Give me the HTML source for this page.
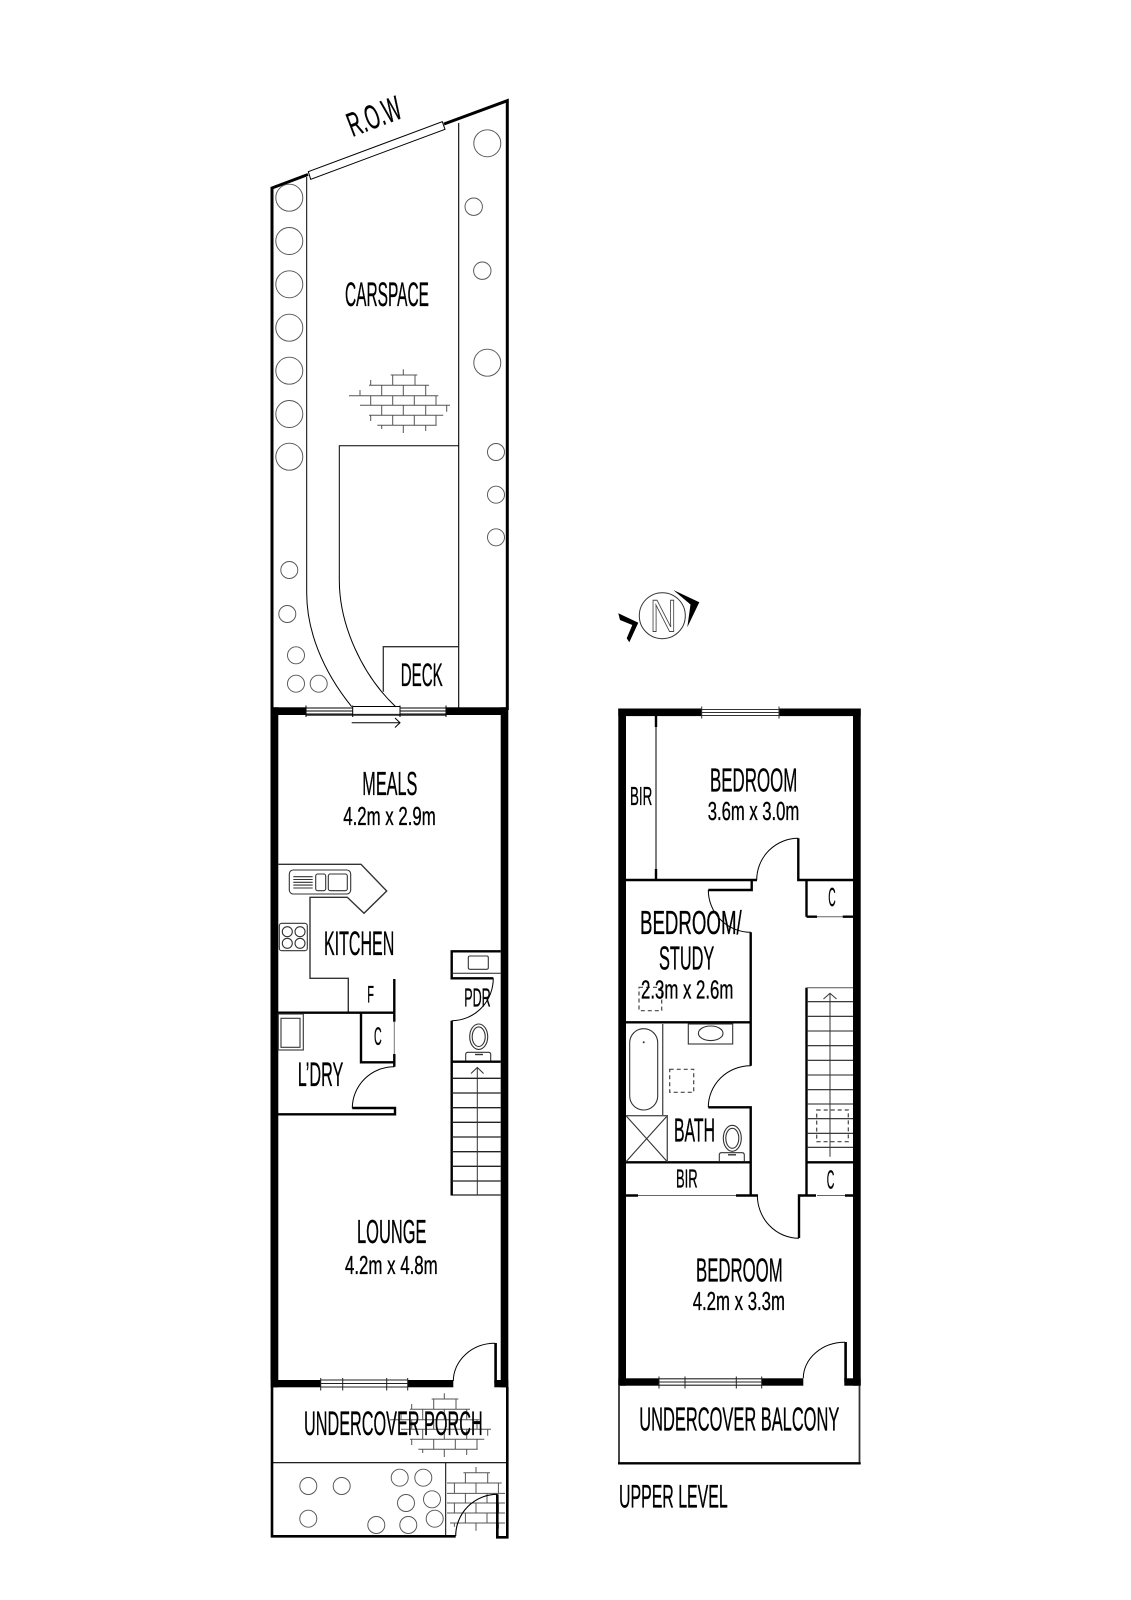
<!DOCTYPE html>
<html lang="en">
<head>
<meta charset="utf-8">
<title>Floor Plan</title>
<style>
html,body{margin:0;padding:0;background:#fff;}
svg{display:block;}
text{font-family:"Liberation Sans Narrow","Liberation Sans",sans-serif;fill:#000;stroke:#000;stroke-width:.35;}
.t{fill:none;stroke:#555;stroke-width:.95;}
.k{fill:none;stroke:#000;}
.g{fill:none;stroke:#444;}
</style>
</head>
<body>
<svg xmlns="http://www.w3.org/2000/svg" width="1131" height="1600" viewBox="0 0 1131 1600">
<rect width="1131" height="1600" fill="#fff"/>
<defs>
<g id="br" fill="none" stroke="#555" stroke-width="1">
<path d="M390.7 375H417.3M369 385.3H429M349 395.7H438.3M360 405.3H450M369 415.3H443.3M377.3 425.3H436.7"/>
<path d="M403.3 369.3V375M392.7 375V385.3M415 375V385.3M370.7 380V385.3M381.7 385.3V395.7M403.3 385.3V395.7M425.7 385.3V395.7M360 390V395.7M370.7 395.7V405.3M392.7 395.7V405.3M414.3 395.7V405.3M436 395.7V405.3M381.7 405.3V415.3M403.3 405.3V415.3M425.7 405.3V415.3M446.7 405.3V411.7M370.7 415.3V421M392.7 415.3V425.3M414.3 415.3V425.3M436 415.3V425.3M381.7 425.3V429M403.3 425.3V433M425.7 425.3V431"/>
</g>
<clipPath id="c3"><rect x="447" y="1464" width="58" height="71"/></clipPath>
</defs>

<!-- LOWER LEVEL: garden -->
<path class="k" stroke-width="3" d="M272 1380V188L308 174.5M444 124L507.3 100.7V710"/>
<polygon points="308.3,171.7 310.7,179.3 445,129.3 442.3,121.7" fill="#fff" stroke="#000" stroke-width="1"/>
<path class="k" stroke-width="1" d="M306.7 177V593C306.7 630 322 670 351.7 706.7"/>
<path class="k" stroke-width="1.1" d="M458.7 123V708"/>
<path class="k" stroke-width="1" d="M458.7 445.7H339.3V580C339.3 625 362 675 395.7 706.7"/>
<path d="M383.3 691.7V646.7H458.7" fill="none" stroke="#333" stroke-width="1.3"/>

<g class="t">
<circle cx="289.3" cy="197.7" r="13.5"/><circle cx="289.3" cy="241" r="13.5"/><circle cx="289.3" cy="284.3" r="13.5"/><circle cx="289.3" cy="327.7" r="13.5"/><circle cx="289.3" cy="370.7" r="13.5"/><circle cx="289.3" cy="414" r="13.5"/><circle cx="289.3" cy="456.7" r="13.5"/>
<circle cx="487.3" cy="143.3" r="13.5"/><circle cx="473.7" cy="206.7" r="8.7"/><circle cx="482.3" cy="270.7" r="8.7"/><circle cx="487.3" cy="362.7" r="13.5"/>
<circle cx="496" cy="452" r="8.5"/><circle cx="496" cy="494.7" r="8.5"/><circle cx="496" cy="537.3" r="8.5"/>
<circle cx="289.3" cy="570" r="8.5"/><circle cx="287.3" cy="614" r="8.5"/><circle cx="296" cy="655.3" r="8.5"/><circle cx="296" cy="683.7" r="8.5"/><circle cx="318.7" cy="683.7" r="8.5"/>
<circle cx="308.3" cy="1486" r="8.5"/><circle cx="341.7" cy="1486" r="8.5"/><circle cx="308.3" cy="1518.7" r="8.5"/><circle cx="399.7" cy="1477.7" r="8.5"/><circle cx="423.3" cy="1477.7" r="8.5"/><circle cx="406" cy="1503" r="8.5"/><circle cx="432" cy="1499.3" r="8.5"/><circle cx="434.7" cy="1518.7" r="8.5"/><circle cx="376.3" cy="1525" r="8.5"/><circle cx="408.3" cy="1525" r="8.5"/>
</g>

<use href="#br"/>
<use href="#br" transform="translate(41,1024)"/>
<g clip-path="url(#c3)"><use href="#br" transform="translate(72.7,1097.7)"/></g>

<!-- LOWER LEVEL: house walls -->
<rect x="270.7" y="707.3" width="7.6" height="680"/>
<rect x="500.7" y="707.3" width="7.6" height="680"/>
<rect x="271" y="707.3" width="35" height="7.7"/>
<rect x="446" y="707.3" width="62" height="7.7"/>
<!-- rear window / sliding door -->
<g fill="none" stroke="#333">
<path stroke-width="1.2" d="M306 708H352.7M306 711H352.7M306 714H352.7M400 708H446M400 711H446M400 714H446"/>
<path stroke="#000" stroke-width="1" d="M352.7 706.5H400"/>
<path stroke="#222" stroke-width="1.8" d="M306 714.8H446"/>
<path stroke="#000" stroke-width="1" d="M306 705.5V717M352.7 705.5V717M400 705.5V717M446 705.5V717"/>
<path stroke="#000" stroke-width="1" d="M351.7 722.7H400M395 718L400 722.7L395 727.5"/>
</g>

<!-- kitchen -->
<path d="M278.3 864.3H361L386.7 891L364 913.3L347.3 897.3H310V978.3H348.3V1012.7" fill="none" stroke="#333" stroke-width="1.4"/>
<g fill="none" stroke="#333" stroke-width="1.1">
<rect x="289.3" y="870" width="61.4" height="24" rx="4"/>
<rect x="315.7" y="874" width="10" height="16.7" rx="2"/>
<rect x="328.3" y="874" width="19" height="16.7" rx="2"/>
<path d="M293.3 876.7H312.7M293.3 879.5H312.7M293.3 882.3H312.7M293.3 885.1H312.7M293.3 888H312.7"/>
<rect x="279.3" y="923.3" width="28" height="27.4" rx="2.5"/>
<circle cx="287.3" cy="931.7" r="5"/><circle cx="300" cy="931.7" r="5"/><circle cx="287.3" cy="943.3" r="5"/><circle cx="300" cy="943.3" r="5"/>
</g>
<!-- laundry -->
<path class="k" stroke-width="2.4" d="M278 1012.7H395M394.3 979V1021.7M394.3 1054V1066.7M361 1012.7V1062.3H394"/>
<path d="M394.3 1021.7V1054" fill="none" stroke="#777" stroke-width="1"/>
<path class="k" stroke-width="2.4" d="M352.3 1108H395V1114.3H278"/>
<path class="k" stroke-width="1" d="M394.3 1066.7A42 41.6 0 0 0 352.3 1108.3"/>
<g fill="none" stroke="#333" stroke-width="1.1">
<rect x="278.3" y="1014" width="25" height="36"/>
<rect x="281" y="1018.3" width="19" height="29"/>
</g>
<!-- PDR -->
<path class="k" stroke-width="2.4" d="M500.7 951.3H451.7V978.3H493.3M451.7 1020.7V1193"/>
<path d="M451.7 973.3H500.7" fill="none" stroke="#222" stroke-width="1"/>
<path class="k" stroke-width="1" d="M493.3 978.3A41.6 42.4 0 0 1 451.7 1020.7"/>
<rect x="468.3" y="956" width="20" height="13.3" rx="1.5" fill="none" stroke="#333" stroke-width="1.1"/>
<g fill="none" stroke="#333" stroke-width="1.1">
<ellipse cx="478.7" cy="1036.7" rx="9" ry="12.7"/>
<ellipse cx="478.7" cy="1036.7" rx="6.5" ry="9.8"/>
<path d="M465.7 1061.7V1054.5Q465.7 1052.3 468 1052.3H488.5Q490.7 1052.3 490.7 1054.5V1061.7"/>
<path d="M475 1054.5H483" stroke-width="1.4"/>
</g>
<!-- lower stairs -->
<path class="k" stroke-width="2.4" d="M451.7 1061.7H500.7"/>
<path fill="none" stroke="#222" stroke-width="1.3" d="M451.7 1078.3H500.7M451.7 1093H500.7M451.7 1107.7H500.7M451.7 1122.3H500.7M451.7 1137H500.7M451.7 1151.7H500.7M451.7 1166.3H500.7M451.7 1181H500.7M451.7 1195H500.7"/>
<path fill="none" stroke="#333" stroke-width="1" d="M477.3 1067.5V1195M471 1073.5L477.3 1067.5L483.6 1073.5"/>
<path fill="none" stroke="#000" stroke-width="2.4" d="M451.7 1193V1195.5"/>

<!-- front wall -->
<rect x="270.7" y="1380" width="50" height="7.3"/>
<rect x="407.7" y="1380" width="45.6" height="7.3"/>
<g fill="none" stroke="#222">
<path stroke-width="1.1" d="M320.7 1380H407.7M320.7 1383.5H407.7M320.7 1387H407.7"/>
<path stroke-width="1" d="M320.7 1378V1390.5M342.7 1378V1390.5M386.7 1378V1390.5M407.7 1378V1390.5"/>
</g>
<path class="k" stroke-width="1" d="M453.3 1381A41.7 38 0 0 1 495 1343.3"/>
<rect x="494.3" y="1343" width="2.6" height="40"/>
<rect x="494.3" y="1380" width="14" height="7.3"/>

<!-- porch & front garden -->
<path class="k" stroke-width="2.6" d="M272 1387V1536.3H455.7"/>
<path class="k" stroke-width="2.6" d="M507.3 1387V1537.3H497.3V1494.3"/>
<path class="k" stroke-width="1.1" d="M272 1462.7H507.3"/>
<path class="k" stroke-width="1" d="M445.7 1462.7V1536"/>
<path class="k" stroke-width="1.1" d="M455.7 1536A41.6 41.7 0 0 1 497.3 1494.3"/>

<!-- UPPER LEVEL walls -->
<rect x="618.3" y="708.5" width="7.7" height="677.2"/>
<rect x="853" y="708.5" width="7.7" height="677.2"/>
<rect x="618.3" y="708.5" width="83.4" height="7.6"/>
<rect x="779" y="708.5" width="81.7" height="7.6"/>
<g fill="none" stroke="#333">
<path stroke-width="1.1" d="M701.7 709.5H779M701.7 712.5H779M701.7 715.5H779"/>
<path stroke-width="1" d="M701.7 706.5V718.5M779 706.5V718.5"/>
</g>
<path d="M656 716V880" fill="none" stroke="#555" stroke-width="1.5"/>
<path d="M656 716V727M656 869V880" fill="none" stroke="#000" stroke-width="2.4"/>
<!-- upper partitions -->
<path class="k" stroke-width="2.4" d="M626 880H757M751.7 880V890H708.3M750.7 932.3V1065.7M708.3 1107.3H750.7V1195M626 1022.3H751M626 1162.3H751M798.3 838.3V880H853.3M806.5 880V916.7M806.5 916.7H817M842.7 916.7H853.3"/>
<path class="k" stroke-width="1" d="M798.3 838.3A41.6 41.7 0 0 0 756.7 880M708.3 890A42.4 42.3 0 0 0 750.7 932.3M750.7 1065.7A42.4 41.6 0 0 0 708.3 1107.3M757.3 1195A41.7 43.3 0 0 0 799 1238.3"/>
<path d="M817 916.7H842.7M626 1195.5H756M817 1195.5H845" fill="none" stroke="#666" stroke-width="1"/>
<path class="k" stroke-width="2.4" d="M626 1195.5H638M736 1195.5H758M799 1238V1195.5H816M845 1195.5H853.3M806.5 987.7V1195.5M806.5 1162.3H853.3"/>
<!-- bathroom -->
<g fill="none" stroke="#333" stroke-width="1.1">
<rect x="688.3" y="1024" width="44.4" height="20"/>
<ellipse cx="710.7" cy="1033.3" rx="12.3" ry="7.3"/>
<rect x="629.7" y="1028.7" width="28" height="81.3" rx="14"/>
<ellipse cx="732.3" cy="1138.3" rx="9" ry="13"/>
<ellipse cx="732.3" cy="1138.3" rx="6.5" ry="10"/>
<path d="M719.3 1161.7V1155Q719.3 1152.7 721.5 1152.7H742Q744.3 1152.7 744.3 1155V1161.7"/>
<path d="M728 1154.8H736" stroke-width="1.4"/>
<path d="M626 1115.7L667.3 1161.7M667.3 1115.7L626 1161.7"/>
</g>
<circle cx="643.7" cy="1042.3" r="1" fill="#333"/>
<path d="M662.7 1024V1115.7M626 1115.7H667.3V1161.7" fill="none" stroke="#555" stroke-width="1.4"/>
<g fill="none" stroke="#444" stroke-width="1.2" stroke-dasharray="4 3">
<rect x="669.7" y="1069.3" width="24" height="23"/>
<rect x="639" y="987.3" width="22.7" height="23.4"/>
<rect x="816.7" y="1110" width="31.6" height="31.7"/>
</g>
<!-- upper stairs -->
<path d="M806.5 987.7H853" fill="none" stroke="#555" stroke-width="1"/>
<path fill="none" stroke="#222" stroke-width="1.1" d="M806.5 1001.7H853M806.5 1016.3H853M806.5 1031H853M806.5 1045.7H853M806.5 1060.3H853M806.5 1075H853M806.5 1089.7H853M806.5 1104H853M806.5 1118.7H853M806.5 1133.3H853M806.5 1147.3H853"/>
<path fill="none" stroke="#333" stroke-width="1" d="M830 993.3V1156.7M823.5 999L830 993.3L836.5 999"/>

<!-- upper front wall + balcony -->
<rect x="618.3" y="1378.3" width="40.7" height="7.4"/>
<rect x="761.7" y="1378.3" width="41.6" height="7.4"/>
<g fill="none" stroke="#222">
<path stroke-width="1.1" d="M659 1378.8H761.7M659 1382H761.7M659 1385.2H761.7"/>
<path stroke-width="1" d="M659 1376.5V1388.5M685 1376.5V1388.5M736.3 1376.5V1388.5M761.7 1376.5V1388.5"/>
</g>
<path class="k" stroke-width="1" d="M803.3 1378.3A41.7 36 0 0 1 845 1342.3"/>
<rect x="844.3" y="1342" width="2.6" height="40"/>
<rect x="844.3" y="1378.3" width="16.4" height="7.4"/>
<path d="M619 1385.7V1463.3M859.5 1385.7V1463.3" fill="none" stroke="#333" stroke-width="1.8"/>
<path class="k" stroke-width="2.4" d="M618 1463.3H860.7"/>

<!-- compass -->
<circle cx="662.3" cy="615.7" r="23" fill="#fff" stroke="#333" stroke-width="1"/>
<polygon points="673.3,590 699.3,602.3 687.3,627.3 690.5,604.5"/>
<polygon points="618.3,613.3 638.3,622.7 629.3,642.3 626.7,638.3 632.3,625 620,620"/>
<text x="650" y="631.7" font-size="45" textLength="26.7" lengthAdjust="spacingAndGlyphs" style="fill:#fff;stroke:#444;stroke-width:1">N</text>

<!-- labels -->
<text x="345" y="306" font-size="34" textLength="84" lengthAdjust="spacingAndGlyphs">CARSPACE</text>
<text transform="translate(352.5,137) rotate(-21)" font-size="34" textLength="55" lengthAdjust="spacingAndGlyphs">R.O.W</text>
<text x="400.7" y="686" font-size="32" textLength="42" lengthAdjust="spacingAndGlyphs">DECK</text>
<text x="362.3" y="795" font-size="33" textLength="55" lengthAdjust="spacingAndGlyphs">MEALS</text>
<text x="343.3" y="825" font-size="26" textLength="92.4" lengthAdjust="spacingAndGlyphs">4.2m x 2.9m</text>
<text x="324" y="955" font-size="34" textLength="70.3" lengthAdjust="spacingAndGlyphs">KITCHEN</text>
<text x="367.3" y="1002.7" font-size="24" textLength="6.7" lengthAdjust="spacingAndGlyphs">F</text>
<text x="374" y="1045" font-size="25" textLength="7.7" lengthAdjust="spacingAndGlyphs">C</text>
<text x="297.7" y="1086" font-size="34" textLength="45.6" lengthAdjust="spacingAndGlyphs">L’DRY</text>
<text x="464.3" y="1006.7" font-size="26" textLength="26.4" lengthAdjust="spacingAndGlyphs">PDR</text>
<text x="357" y="1243" font-size="33" textLength="69.5" lengthAdjust="spacingAndGlyphs">LOUNGE</text>
<text x="345" y="1274" font-size="26" textLength="92.7" lengthAdjust="spacingAndGlyphs">4.2m x 4.8m</text>
<text x="304" y="1435" font-size="34" textLength="178.7" lengthAdjust="spacingAndGlyphs">UNDERCOVER PORCH</text>

<text x="710" y="791.7" font-size="33" textLength="87.3" lengthAdjust="spacingAndGlyphs">BEDROOM</text>
<text x="707.7" y="820" font-size="25.5" textLength="91.6" lengthAdjust="spacingAndGlyphs">3.6m x 3.0m</text>
<text x="630" y="805" font-size="26" textLength="22.3" lengthAdjust="spacingAndGlyphs">BIR</text>
<text x="828.3" y="906" font-size="26" textLength="7.4" lengthAdjust="spacingAndGlyphs">C</text>
<text x="640" y="934" font-size="33" textLength="101.7" lengthAdjust="spacingAndGlyphs">BEDROOM/</text>
<text x="659" y="969.3" font-size="33" textLength="55.3" lengthAdjust="spacingAndGlyphs">STUDY</text>
<text x="641" y="998.3" font-size="25.5" textLength="92.3" lengthAdjust="spacingAndGlyphs">2.3m x 2.6m</text>
<text x="674" y="1141.7" font-size="33" textLength="41" lengthAdjust="spacingAndGlyphs">BATH</text>
<text x="676" y="1187.3" font-size="26" textLength="21.7" lengthAdjust="spacingAndGlyphs">BIR</text>
<text x="826.7" y="1188.3" font-size="26" textLength="7.6" lengthAdjust="spacingAndGlyphs">C</text>
<text x="696" y="1281.7" font-size="33" textLength="86.7" lengthAdjust="spacingAndGlyphs">BEDROOM</text>
<text x="692.7" y="1310" font-size="25.5" textLength="92.3" lengthAdjust="spacingAndGlyphs">4.2m x 3.3m</text>
<text x="639.3" y="1430.7" font-size="33" textLength="200" lengthAdjust="spacingAndGlyphs">UNDERCOVER BALCONY</text>
<text x="619" y="1507.3" font-size="32" textLength="108.7" lengthAdjust="spacingAndGlyphs">UPPER LEVEL</text>
</svg>
</body>
</html>
